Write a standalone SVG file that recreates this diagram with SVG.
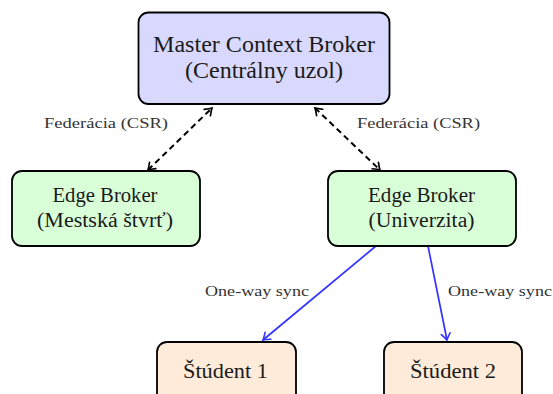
<svg xmlns="http://www.w3.org/2000/svg" width="553" height="394" viewBox="0 0 553 394">
<style>
  .box { stroke: #000; stroke-width: 1.8; }
  .master { fill: #d9d9ff; }
  .edge { fill: #d9ffd9; }
  .student { fill: #ffebd9; }
  .t { font-family: "Liberation Serif", "DejaVu Serif", serif; fill: #1a1a1a; text-anchor: middle; }
  .big { font-size: 23px; }
  .mid { font-size: 20px; }
  .lbl { font-family: "Liberation Serif", "DejaVu Serif", serif; font-size: 15.5px; fill: #333; }
  .fed { stroke: #000; stroke-width: 2; stroke-dasharray: 6 4; fill: none; }
  .sync { stroke: #3333ff; stroke-width: 1.7; fill: none; }
</style>
<defs>
  <marker id="ah" markerUnits="userSpaceOnUse" viewBox="-10 -6 12 12" refX="0" refY="0" markerWidth="12" markerHeight="12" orient="auto-start-reverse">
    <path d="M -6.5,-4.5 Q -2,-1 0,0 Q -2,1 -6.5,4.5" fill="none" stroke="#000" stroke-width="1.7" stroke-linecap="round"/>
  </marker>
  <marker id="ahb" markerUnits="userSpaceOnUse" viewBox="-10 -6 12 12" refX="0" refY="0" markerWidth="12" markerHeight="12" orient="auto">
    <path d="M -6.5,-4.5 Q -2,-1 0,0 Q -2,1 -6.5,4.5" fill="none" stroke="#3333ff" stroke-width="1.6" stroke-linecap="round"/>
  </marker>
</defs>

<g id="connectors">
  <line class="fed" x1="148" y1="170" x2="212" y2="108" marker-start="url(#ah)" marker-end="url(#ah)"/>
  <line class="fed" x1="315" y1="108" x2="380" y2="170" marker-start="url(#ah)" marker-end="url(#ah)"/>
  <line class="sync" x1="376" y1="246" x2="263" y2="340" marker-end="url(#ahb)"/>
  <line class="sync" x1="428" y1="246" x2="447" y2="340" marker-end="url(#ahb)"/>
  <text class="lbl" x="44" y="128" textLength="124" lengthAdjust="spacingAndGlyphs">Federácia (CSR)</text>
  <text class="lbl" x="357" y="128" textLength="123" lengthAdjust="spacingAndGlyphs">Federácia (CSR)</text>
  <text class="lbl" x="205" y="296" textLength="104" lengthAdjust="spacingAndGlyphs">One-way sync</text>
  <text class="lbl" x="448" y="296" textLength="104" lengthAdjust="spacingAndGlyphs">One-way sync</text>
</g>

<g id="master">
  <rect class="box master" x="138.5" y="12.5" width="251" height="91.5" rx="10"/>
  <text class="t big" x="264" y="52" textLength="222" lengthAdjust="spacingAndGlyphs">Master Context Broker</text>
  <text class="t big" x="264" y="78" textLength="158" lengthAdjust="spacingAndGlyphs">(Centrálny uzol)</text>
</g>

<g id="edge-mestska">
  <rect class="box edge" x="12" y="171" width="188" height="75" rx="10"/>
  <text class="t mid" x="105" y="202" textLength="105" lengthAdjust="spacingAndGlyphs">Edge Broker</text>
  <text class="t mid" x="105" y="227" textLength="136" lengthAdjust="spacingAndGlyphs">(Mestská štvrť)</text>
</g>

<g id="edge-univerzita">
  <rect class="box edge" x="328" y="171" width="188" height="75" rx="10"/>
  <text class="t mid" x="421.5" y="202" textLength="107" lengthAdjust="spacingAndGlyphs">Edge Broker</text>
  <text class="t mid" x="421.5" y="227" textLength="106" lengthAdjust="spacingAndGlyphs">(Univerzita)</text>
</g>

<g id="student1">
  <rect class="box student" x="157" y="342" width="139" height="70" rx="10"/>
  <text class="t mid" x="225.5" y="378" textLength="85" lengthAdjust="spacingAndGlyphs">Štúdent 1</text>
</g>

<g id="student2">
  <rect class="box student" x="384" y="342" width="138" height="70" rx="10"/>
  <text class="t mid" x="453" y="378" textLength="86" lengthAdjust="spacingAndGlyphs">Štúdent 2</text>
</g>
</svg>
